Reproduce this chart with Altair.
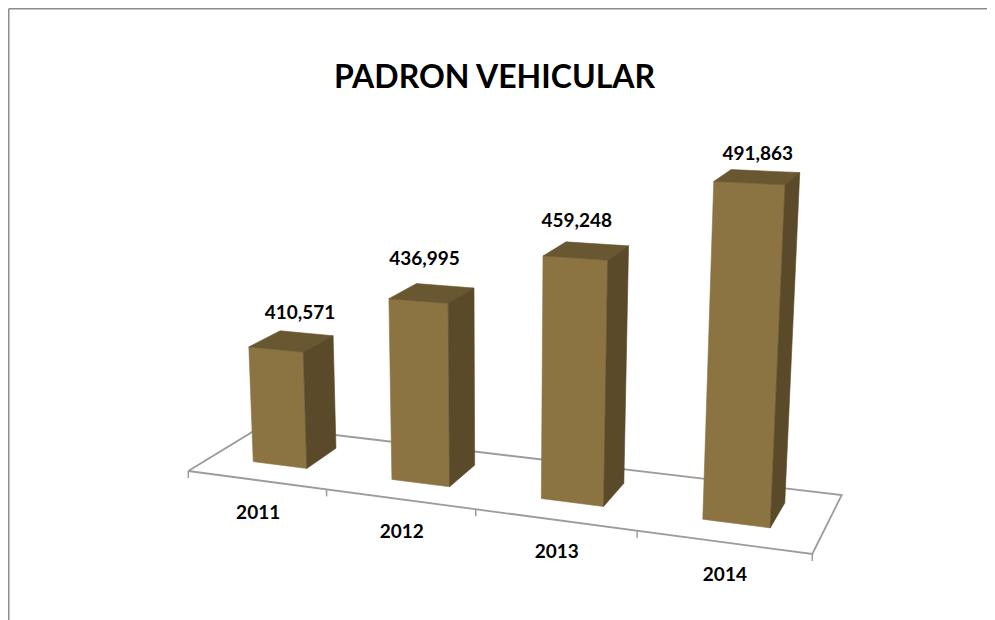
import altair as alt
import numpy as np
import pandas as pd

# ---- data
years = ["2011", "2012", "2013", "2014"]
values = [410571, 436995, 459248, 491863]
title_text = "PADRON VEHICULAR"

# ---- camera of the 3D scene (layout, not data)
FLOOR = {(0, 0): (188.3, 471), (4, 0): (812.3, 554), (4, 1): (841.7, 495), (0, 1): (261.5, 426.3)}
VANISH = np.array([498.0, 6830.0, 1.0])
BASE = 358500
U0, U1, V0, V1 = 0.31, 0.705, 0.31, 0.745
RISE = 0.0177
LABEL_NUDGE = [(9, -28), (-7, -34), (-9, -30), (1, -23)]
FRONT, TOP, SIDE = "#8b7342", "#695731", "#5a4a2a"
GRID = "#9c9c9c"
FRAME = "#8c8c8c"


def homography(pairs):
    A, b = [], []
    for (u, v), (x, y) in pairs.items():
        A.append([u, v, 1, 0, 0, 0, -u * x, -v * x]); b.append(x)
        A.append([0, 0, 0, u, v, 1, -u * y, -v * y]); b.append(y)
    return np.append(np.linalg.solve(np.array(A, float), np.array(b, float)), 1).reshape(3, 3)


H = homography(FLOOR)
k = RISE * (H @ [U0, V0, 1])[2] / (values[0] - BASE)


def project(u, v, val=BASE):
    p = H @ [u, v, 1] - k * (val - BASE) * VANISH
    return p[0] / p[2], p[1] / p[2]


def quad_rows(quad, fid, color):
    """Quadrilateral -> x / y / y2 rows for an area mark."""
    rows = []
    for x in sorted({p[0] for p in quad}):
        ys = []
        for a, b in zip(quad, quad[1:] + quad[:1]):
            lo, hi = min(a[0], b[0]), max(a[0], b[0])
            if lo <= x <= hi:
                if a[0] == b[0]:
                    ys += [a[1], b[1]]
                else:
                    ys.append(a[1] + (b[1] - a[1]) * (x - a[0]) / (b[0] - a[0]))
        rows.append(dict(x=x, y=min(ys), y2=max(ys), id=fid, color=color))
    return rows


faces, labels, cats, ticks = [], [], [], []
for i, (yr, val) in enumerate(zip(years, values)):
    a, b = i + U0, i + U1
    ftl, ftr = project(a, V0, val), project(b, V0, val)
    tbl, tbr = project(a, V1, val), project(b, V1, val)
    bfl, bfr = project(a, V0), project(b, V0)
    bbr = project(b, V1)
    faces += quad_rows([ftl, ftr, bfr, bfl], f"{yr}-front", FRONT)
    faces += quad_rows([tbl, tbr, ftr, ftl], f"{yr}-top", TOP)
    faces += quad_rows([ftr, tbr, bbr, bfr], f"{yr}-side", SIDE)
    cx = (ftl[0] + tbr[0]) / 2
    cy = (ftl[1] + tbr[1]) / 2
    labels.append(dict(x=cx + LABEL_NUDGE[i][0], y=cy + LABEL_NUDGE[i][1], text=f"{val:,}"))
    px, py = project(i + 0.5, 0)
    cats.append(dict(x=px + 2, y=py + 32.5, text=yr))
for i in range(len(years) + 1):
    px, py = project(i, 0)
    ticks.append(dict(x=px, y=py, y2=py + 7))

floor_path = [project(0, 0), project(4, 0), project(4, 1), project(0, 1), project(0, 0)]
floor_df = pd.DataFrame([dict(x=p[0], y=p[1], o=j) for j, p in enumerate(floor_path)])

X = alt.X("x:Q", scale=alt.Scale(domain=[8, 987], nice=False, zero=False), axis=None)
Y = alt.Y("y:Q", scale=alt.Scale(domain=[620, 8], nice=False, zero=False), axis=None)
Y2 = alt.Y2("y2:Q")

frame = pd.DataFrame([dict(x=8.75, y=8.75, o=0), dict(x=8.75, y=620, o=1)])
frame2 = pd.DataFrame([dict(x=8.75, y=8.75, o=0), dict(x=987, y=8.75, o=1)])
frame_l = alt.Chart(frame).mark_line(color=FRAME, strokeWidth=1.5, clip=True).encode(X, Y, order="o:O")
frame_t = alt.Chart(frame2).mark_line(color=FRAME, strokeWidth=1.5, clip=True).encode(X, Y, order="o:O")

floor = alt.Chart(floor_df).mark_line(color=GRID, strokeWidth=1.8).encode(X, Y, order="o:O")
tick = alt.Chart(pd.DataFrame(ticks)).mark_rule(color=GRID, strokeWidth=1.5).encode(X, Y, Y2)
bars = alt.Chart(pd.DataFrame(faces)).mark_area(orient="vertical", strokeWidth=0.6).encode(
    X, Y, Y2,
    detail="id:N",
    fill=alt.Fill("color:N", scale=None),
    stroke=alt.Stroke("color:N", scale=None),
)
label_text = alt.Chart(pd.DataFrame(labels)).mark_text(
    font="Lato", fontWeight="bold", fontSize=19, color="#000000", baseline="middle", align="center"
).encode(X, Y, text="text:N")
cat_text = alt.Chart(pd.DataFrame(cats)).mark_text(
    font="Lato", fontWeight="bold", fontSize=19, color="#000000", baseline="middle", align="center"
).encode(X, Y, text="text:N")
title = alt.Chart(pd.DataFrame([dict(x=494.5, y=78, text=title_text)])).mark_text(
    font="Lato", fontWeight="bold", fontSize=32, color="#000000", baseline="middle", align="center"
).encode(X, Y, text="text:N")

chart = alt.layer(frame_l, frame_t, floor, tick, bars, label_text, cat_text, title).properties(
    width=979, height=612, padding=0, autosize=alt.AutoSizeParams(type="none"), background="#ffffff"
).configure_view(stroke=None)

chart.save("out.html", embed_options={"renderer": "svg", "actions": False})
